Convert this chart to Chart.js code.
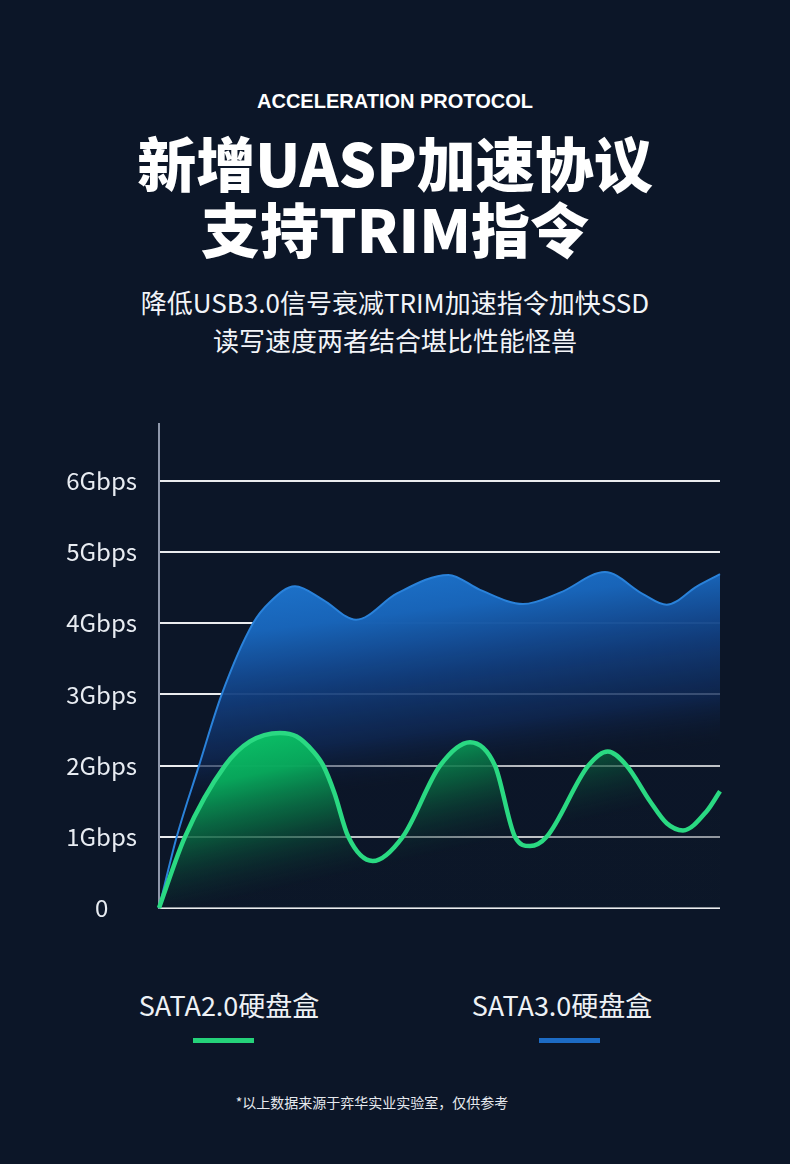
<!DOCTYPE html>
<html><head><meta charset="utf-8">
<script src="https://cdn.jsdelivr.net/npm/chart.js@4/dist/chart.umd.min.js"></script>
<style>
html,body{margin:0;padding:0;}
body{width:790px;height:1164px;background:#0c1628;position:relative;overflow:hidden;font-family:"Noto Sans CJK SC","Noto Sans",sans-serif;color:#fff;}
.t{position:absolute;left:0;width:790px;text-align:center;white-space:nowrap;}
#eng{top:88px;font-family:"Liberation Sans",Arial,sans-serif;font-weight:bold;font-size:20px;line-height:26px;}
#h1{top:127px;font-size:59px;font-weight:900;line-height:70px;}
#h2{top:193px;font-size:59px;font-weight:900;line-height:70px;}
#s1{top:284px;font-size:26px;line-height:36px;color:#f2f4f8;}
#s2{top:322px;font-size:26px;line-height:36px;color:#f2f4f8;}
#chartbox{position:absolute;left:0;top:400px;width:790px;height:520px;}
.lg{position:absolute;font-size:27px;line-height:34px;color:#eef1f5;text-align:center;width:260px;}
.lb{position:absolute;height:5px;width:61px;}
#note{top:1092px;width:744px;font-size:14px;line-height:20px;color:#e6e9ee;}
</style></head>
<body>
<div class="t" id="eng">ACCELERATION PROTOCOL</div>
<div class="t" id="h1">新增UASP加速协议</div>
<div class="t" id="h2">支持TRIM指令</div>
<div class="t" id="s1">降低USB3.0信号衰减TRIM加速指令加快SSD</div>
<div class="t" id="s2">读写速度两者结合堪比性能怪兽</div>
<div id="chartbox"><canvas id="c" width="790" height="520"></canvas></div>
<div id="legend"></div>
<div class="t" id="note">*以上数据来源于弈华实业实验室，仅供参考</div>
<script>
// ---- data ----
const seriesNames = ["SATA2.0硬盘盒", "SATA3.0硬盘盒"];
const seriesColors = ["#2ad982", "#1f6fca"];
const yTickValues = [0, 1, 2, 3, 4, 5, 6];
const yTickUnit = "Gbps";
// SATA2.0 (green)
const sata2X = [0, 4.63, 11.76, 16.22, 21.57, 24.54, 27.5, 29.29, 31.25, 33.75, 38.1, 43.44, 50.09, 55.44, 59.89, 63.46, 66.13, 69.11, 76.52, 79.98, 83.37, 87.52, 90.5, 93.4, 97.63, 100];
const sata2Y = [0, 1.0, 2.0, 2.34, 2.46, 2.41, 2.2, 2.0, 1.62, 1.0, 0.66, 1.0, 2.0, 2.33, 2.0, 1.0, 0.87, 1.0, 2.0, 2.2, 2.0, 1.5, 1.19, 1.09, 1.36, 1.64];
// SATA3.0 (blue)
const sata3X = [0, 3.16, 7.13, 11.18, 16.76, 19.79, 24.24, 29.23, 35.12, 42.42, 51.57, 57.22, 64.88, 71.48, 79.5, 86.27, 90.5, 95.9, 100];
const sata3Y = [0, 1.0, 2.0, 3.0, 4.0, 4.3, 4.52, 4.33, 4.05, 4.42, 4.68, 4.47, 4.27, 4.43, 4.72, 4.41, 4.26, 4.52, 4.69];

function pts(xs, ys){ return xs.map((x,i)=>({x:x, y:ys[i]})); }

function greenFill(ctx){
  const ch = ctx.chart, a = ch.chartArea; if(!a) return 'rgba(0,0,0,0)';
  const y = ch.scales.y;
  const top = y.getPixelForValue(2.5);
  const g = ch.ctx.createLinearGradient(a.left, top, a.left + 40, a.bottom);
  g.addColorStop(0, 'rgba(12,206,108,1)');
  g.addColorStop(0.35, 'rgba(8,170,92,0.97)');
  g.addColorStop(0.65, 'rgba(10,96,62,0.8)');
  g.addColorStop(1, 'rgba(12,26,40,0.25)');
  return g;
}
function blueFill(ctx){
  const ch = ctx.chart, a = ch.chartArea; if(!a) return 'rgba(0,0,0,0)';
  const g = ch.ctx.createLinearGradient(a.left, a.top + 146, a.left + 30, a.top + 386);
  g.addColorStop(0, 'rgba(31,122,212,1)');
  g.addColorStop(0.3, 'rgba(24,100,184,1)');
  g.addColorStop(0.55, 'rgba(18,63,128,0.95)');
  g.addColorStop(0.8, 'rgba(15,40,84,0.8)');
  g.addColorStop(1, 'rgba(12,22,40,0.2)');
  return g;
}

new Chart(document.getElementById('c'), {
  type: 'line',
  data: {
    datasets: [
      { label: seriesNames[0], data: pts(sata2X, sata2Y), borderColor: seriesColors[0], borderWidth: 4.5,
        backgroundColor: greenFill, fill: 'origin', cubicInterpolationMode: 'monotone', pointRadius: 0, clip: 8 },
      { label: seriesNames[1], data: pts(sata3X, sata3Y), borderColor: '#2a82da', borderWidth: 2,
        backgroundColor: blueFill, fill: 'origin', cubicInterpolationMode: 'monotone', pointRadius: 0, clip: 8 }
    ]
  },
  options: {
    responsive: false, animation: false, maintainAspectRatio: false,
    layout: { padding: { top: 24, right: 70, bottom: 12, left: 0 } },
    plugins: { legend: { display: false }, tooltip: { enabled: false } },
    scales: {
      x: { type: 'linear', min: 0, max: 100, display: false },
      y: {
        min: 0, max: 6.8, z: 1,
        afterFit: s => { s.width = 159; s.paddingTop = 0; s.paddingBottom = 0; },
        afterBuildTicks: s => { s.ticks = yTickValues.map(v => ({ value: v })); },
        grid: { color: 'rgba(255,255,255,0.92)', lineWidth: 2, drawTicks: false },
        border: { display: true, color: '#8f98ab', width: 2 },
        ticks: {
          color: '#e8ecf2', font: { family: '"Noto Sans CJK SC","Noto Sans",sans-serif', size: 24 },
          crossAlign: 'center', padding: 22,
          callback: v => v === 0 ? '0' : v + yTickUnit
        }
      }
    }
  }
});

// legend built from series names/colours
const legendPos = [{cx: 229, bx: 193}, {cx: 562, bx: 539}];
const lg = document.getElementById('legend');
seriesNames.forEach((n, i) => {
  const d = document.createElement('div'); d.className = 'lg'; d.textContent = n;
  d.style.left = (legendPos[i].cx - 130) + 'px'; d.style.top = '988px'; lg.appendChild(d);
  const b = document.createElement('div'); b.className = 'lb'; b.style.background = i === 0 ? '#25d27a' : '#1d6bc4';
  b.style.left = legendPos[i].bx + 'px'; b.style.top = '1038px'; lg.appendChild(b);
});
</script>
</body></html>
